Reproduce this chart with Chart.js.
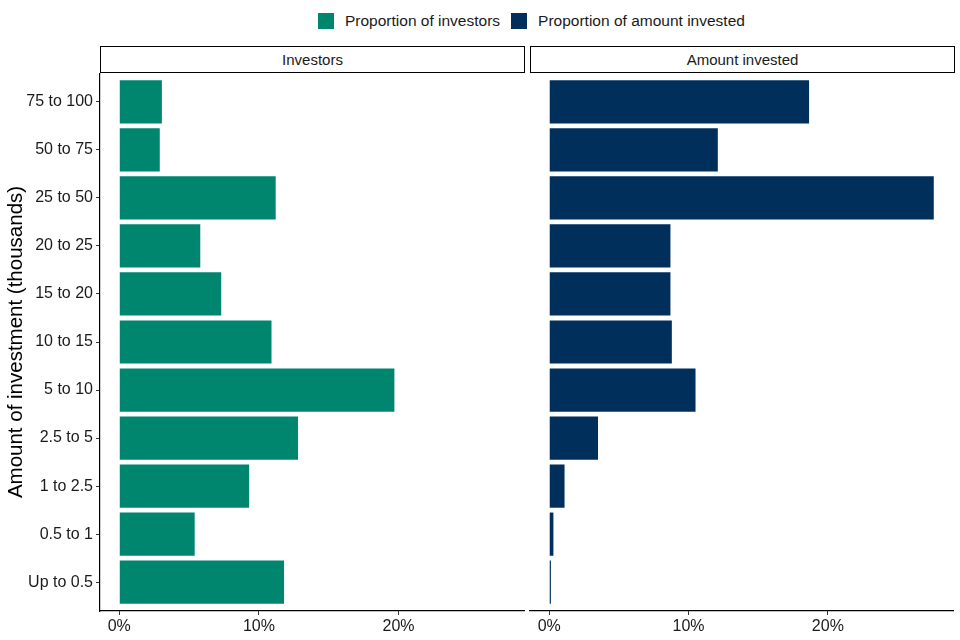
<!DOCTYPE html>
<html>
<head>
<meta charset="utf-8">
<script src="https://cdn.jsdelivr.net/npm/chart.js@4"></script>
<style>
  html, body { margin: 0; padding: 0; background: #fff; }
  body { width: 960px; height: 640px; position: relative; overflow: hidden; font-family: "Liberation Sans", Arial, sans-serif; }
  .wrap { position: absolute; }
  .strip { position: absolute; box-sizing: border-box; border: 1.5px solid #000; background: #fff;
           font-size: 15px; color: #1a1a1a; display: flex; align-items: center; justify-content: center; }
  .legend { position: absolute; top: 12px; left: 318px; display: flex; align-items: center; font-size: 15.5px; color: #1a1a1a; }
  .sw { width: 16px; height: 16px; display: inline-block; margin-right: 11px; }
  .item { display: flex; align-items: center; margin-right: 11px; }
</style>
</head>
<body>
<div class="legend">
  <div class="item"><span class="sw" id="sw1"></span><span>Proportion of investors</span></div>
  <div class="item"><span class="sw" id="sw2"></span><span>Proportion of amount invested</span></div>
</div>
<div class="strip" style="left:100px; top:46px; width:425px; height:27px;">Investors</div>
<div class="strip" style="left:530px; top:46px; width:425px; height:27px;">Amount invested</div>
<div class="wrap" style="left:0px; top:73px; width:528px; height:567px;"><canvas id="c1"></canvas></div>
<div class="wrap" style="left:526px; top:73px; width:434px; height:567px;"><canvas id="c2"></canvas></div>
<script>
const categories = ['75 to 100', '50 to 75', '25 to 50', '20 to 25', '15 to 20', '10 to 15', '5 to 10', '2.5 to 5', '1 to 2.5', '0.5 to 1', 'Up to 0.5'];
const investors = [3.05, 2.9, 11.2, 5.8, 7.3, 10.9, 19.7, 12.8, 9.3, 5.4, 11.8];
const amountInvested = [18.65, 12.1, 27.6, 8.7, 8.7, 8.8, 10.5, 3.5, 1.1, 0.3, 0.12];
const xTickValues = [0, 10, 20];
const seriesNames = ['Proportion of investors', 'Proportion of amount invested'];
const colors = ['#00856F', '#002F5C'];

document.getElementById('sw1').style.background = colors[0];
document.getElementById('sw2').style.background = colors[1];

const dataMax = Math.max(...investors, ...amountInvested);
const xMin = -0.05 * dataMax, xMax = dataMax * 1.05;

function makeChart(id, values, color, name, showY) {
  return new Chart(document.getElementById(id), {
    type: 'bar',
    data: {
      datasets: [{
        label: name,
        data: values.map((v, i) => ({ x: v, y: i })),
        backgroundColor: color,
        borderWidth: 0,
        barPercentage: 0.9,
        categoryPercentage: 1.0
      }]
    },
    options: {
      indexAxis: 'y',
      responsive: true,
      maintainAspectRatio: false,
      animation: false,
      layout: { padding: showY ? { left: 0, right: 4, top: 0, bottom: 0 } : { left: 4, right: 7, top: 0, bottom: 0 } },
      plugins: { legend: { display: false }, tooltip: { enabled: false } },
      scales: {
        x: {
          type: 'linear',
          position: 'bottom',
          offset: false,
          min: xMin,
          max: xMax,
          afterBuildTicks: s => { s.ticks = xTickValues.map(v => ({ value: v })); },
          afterFit: s => { s.height = 29; s.paddingLeft = 0; s.paddingRight = 0; },
          ticks: { callback: v => v + '%', color: '#1a1a1a', font: { family: 'Liberation Sans', size: 16 }, padding: 2, maxRotation: 0 },
          grid: { display: true, offset: false, drawOnChartArea: false, drawTicks: true, tickLength: 4, color: '#333' },
          border: { display: true, color: '#000', width: 1.2 }
        },
        y: {
          type: 'linear',
          position: 'left',
          display: showY,
          offset: false,
          reverse: true,
          min: -0.6,
          max: categories.length - 1 + 0.6,
          afterBuildTicks: s => { s.ticks = categories.map((c, i) => ({ value: i })); },
          afterFit: s => { s.width = showY ? 100 : 0; s.paddingTop = 0; s.paddingBottom = 0; },
          ticks: { callback: v => categories[v] !== undefined ? categories[v] : '', color: '#1a1a1a', font: { family: 'Liberation Sans', size: 16 }, padding: 3 },
          grid: { display: true, offset: false, drawOnChartArea: false, drawTicks: true, tickLength: 4, color: '#333' },
          border: { display: true, color: '#000', width: 1.2 },
          title: { display: true, text: 'Amount of investment (thousands)', color: '#000', font: { family: 'Liberation Sans', size: 20.5 }, padding: { top: 4, bottom: 0 } }
        }
      }
    }
  });
}

makeChart('c1', investors, colors[0], seriesNames[0], true);
makeChart('c2', amountInvested, colors[1], seriesNames[1], false);
</script>
</body>
</html>
